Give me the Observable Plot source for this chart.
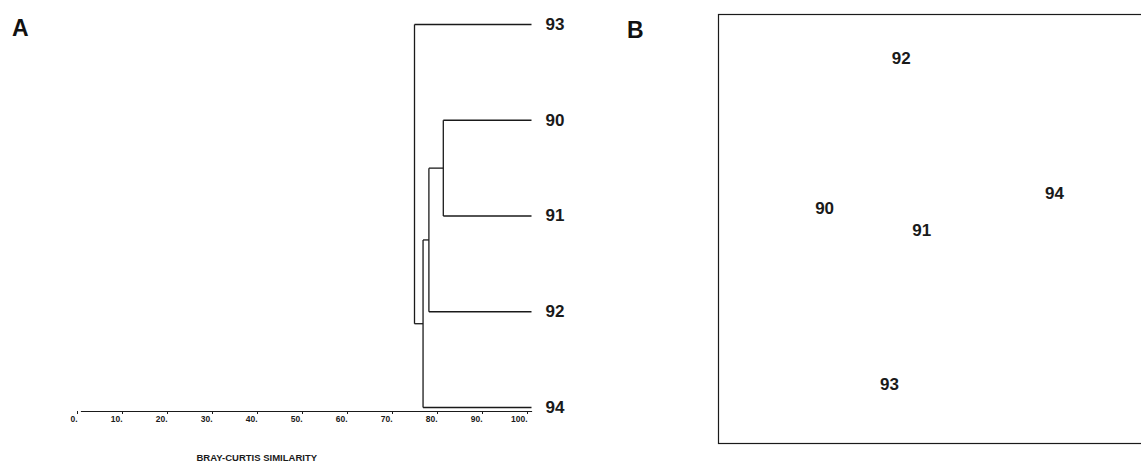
<!DOCTYPE html>
<html>
<head>
<meta charset="utf-8">
<script src="https://cdn.jsdelivr.net/npm/d3@7"></script>
<script src="https://cdn.jsdelivr.net/npm/@observablehq/plot@0.6"></script>
<style>
  html, body { margin: 0; padding: 0; background: #fff; overflow: hidden; }
  #wrap { position: relative; width: 1141px; height: 464px; overflow: hidden; font-family: "Liberation Sans", Arial, sans-serif; }
  #a, #b { position: absolute; top: 0; }
  #a { left: 0; width: 700px; }
  #b { left: 700px; width: 520px; }
  #wrap svg { max-width: none !important; }
  .letter { position: absolute; font-weight: bold; font-size: 23px; line-height: 1; color: #111; }
</style>
</head>
<body>
<div id="wrap">
  <div id="a"></div>
  <div id="b"></div>
  <div class="letter" style="left:12px;top:17px;">A</div>
  <div class="letter" style="left:627px;top:19px;">B</div>
</div>
<script>
// ---- Panel A: dendrogram (Bray-Curtis similarity) ----
const leaves = ["93", "90", "91", "92", "94"];           // top to bottom
const mergeLeft  = ["90", "c1", "c2", "93"];
const mergeRight = ["91", "92", "94", "c3"];
const mergeSim   = [80.4, 77.2, 75.9, 74.0];
const simTicks   = [0, 10, 20, 30, 40, 50, 60, 70, 80, 90, 100];
const axisTitle  = "BRAY-CURTIS SIMILARITY";

// ---- Panel B: ordination (MDS) ----
const mdsLabel = ["92", "90", "91", "94", "93"];
const mdsX     = [-0.26, -0.78, -0.12, 0.78, -0.34];
const mdsY     = [1.19, 0.14, -0.01, 0.25, -1.09];

// Build dendrogram segments
const pos = new Map();
leaves.forEach((l, i) => pos.set(l, {x: 100, y: i}));
const segs = [];
mergeSim.forEach((s, i) => {
  const a = pos.get(mergeLeft[i]), b = pos.get(mergeRight[i]);
  segs.push({x1: a.x, y1: a.y, x2: s, y2: a.y});
  segs.push({x1: b.x, y1: b.y, x2: s, y2: b.y});
  segs.push({x1: s, y1: a.y, x2: s, y2: b.y});
  pos.set("c" + (i + 1), {x: s, y: (a.y + b.y) / 2});
});
const leafData = leaves.map((l, i) => ({label: l, y: i}));

const font = "Liberation Sans, Arial, sans-serif";
const ink = "#1a1a1a";

const plotA = Plot.plot({
  width: 700,
  height: 464,
  marginLeft: 81,
  marginRight: 169,
  marginTop: 24,
  marginBottom: 53,
  insetBottom: 4,
  style: {fontFamily: font, background: "transparent", overflow: "visible"},
  x: {domain: [0, 100]},
  y: {domain: [0, 4], reverse: true, axis: null},
  marks: [
    Plot.frame({anchor: "bottom", stroke: ink, strokeWidth: 1.2}),
    Plot.axisX({
      ticks: simTicks,
      tickSize: 3,
      tickPadding: 1,
      textAnchor: "end",
      dx: -4,
      fontSize: 8.5,
      fontWeight: "bold",
      stroke: ink,
      fill: ink,
      tickFormat: d => d + ".",
      label: null
    }),
    Plot.link(segs, {x1: "x1", y1: "y1", x2: "x2", y2: "y2", stroke: ink, strokeWidth: 1.3}),
    Plot.text(leafData, {x: () => 100, y: "y", text: "label", textAnchor: "start", dx: 14,
      fontSize: 17, fontWeight: "bold", fill: ink}),
    Plot.text([axisTitle], {frameAnchor: "bottom-left", dx: 115, dy: 49, textAnchor: "start",
      fontSize: 9.5, fontWeight: "bold", fill: ink})
  ]
});
document.getElementById("a").appendChild(plotA);

const mdsData = mdsLabel.map((l, i) => ({label: l, x: mdsX[i], y: mdsY[i]}));
const plotB = Plot.plot({
  width: 520,
  height: 464,
  marginLeft: 18,
  marginRight: 60,
  marginTop: 14,
  marginBottom: 21,
  style: {fontFamily: font, background: "transparent"},
  x: {domain: [-1.5, 1.5], axis: null},
  y: {domain: [-1.5, 1.5], axis: null},
  marks: [
    Plot.frame({stroke: ink, strokeWidth: 1.2}),
    Plot.text(mdsData, {x: "x", y: "y", text: "label", fontSize: 17, fontWeight: "bold", fill: ink})
  ]
});
document.getElementById("b").appendChild(plotB);
</script>
</body>
</html>
